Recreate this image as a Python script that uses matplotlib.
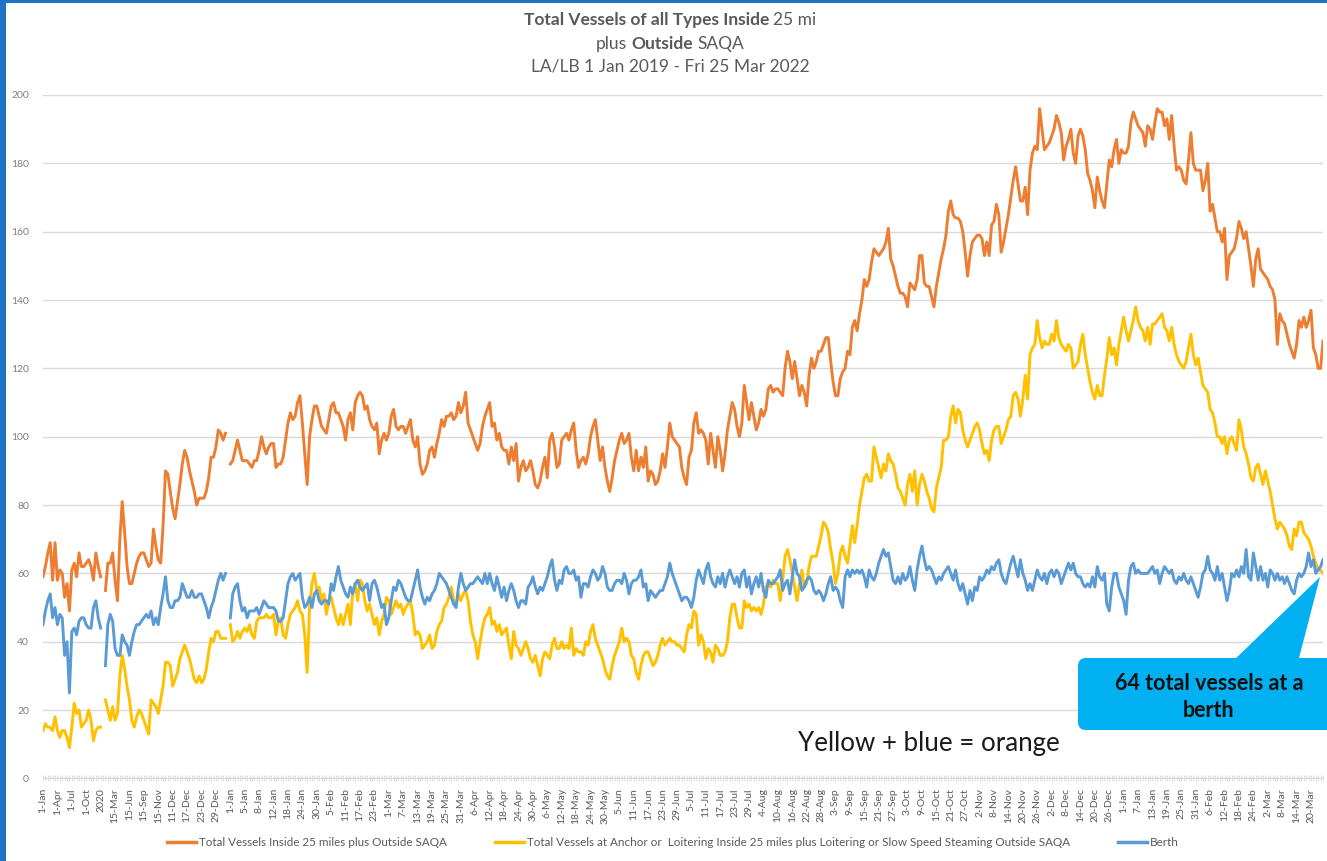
import numpy as np
import matplotlib
matplotlib.use("Agg")
import matplotlib.pyplot as plt
from matplotlib.lines import Line2D
from matplotlib.patches import FancyBboxPatch, Polygon, Rectangle

nan = np.nan

# one value per category (daily), blanks where the source has gaps
total_vessels = [
    59, 62, 66, 69, 58, 69, 58, 61, 60, 53,
    57, 49, 61, 63, 59, 66, 62, 62, 63, 64,
    62, 58, 66, 62, 59, nan, 55, 63, 63, 66,
    58, 52, 70, 81, 72, 62, 57, 57, 60, 63,
    65, 66, 66, 64, 62, 63, 73, 68, 64, 63,
    74, 90, 89, 84, 79, 76, 81, 86, 92, 96,
    94, 90, 87, 84, 80, 82, 82, 82, 84, 88,
    94, 94, 97, 102, 101, 99, 101, nan, 92, 93,
    96, 99, 96, 93, 93, 93, 92, 91, 93, 93,
    96, 100, 97, 95, 97, 98, 98, 91, 92, 92,
    94, 99, 104, 107, 105, 106, 110, 112, 104, 95,
    86, 100, 105, 109, 109, 106, 103, 102, 101, 105,
    109, 110, 107, 107, 105, 103, 99, 105, 107, 102,
    110, 112, 113, 112, 108, 109, 105, 103, 102, 104,
    95, 99, 101, 99, 101, 106, 108, 103, 102, 103,
    103, 101, 103, 105, 99, 97, 100, 92, 89, 90,
    92, 96, 97, 94, 98, 101, 105, 103, 106, 106,
    107, 105, 106, 110, 107, 109, 113, 104, 102, 100,
    98, 96, 98, 103, 106, 108, 110, 103, 104, 99,
    101, 97, 96, 96, 92, 97, 93, 98, 87, 91,
    93, 90, 91, 93, 90, 86, 85, 87, 91, 94,
    88, 99, 101, 97, 91, 92, 99, 100, 101, 99,
    102, 104, 96, 91, 93, 94, 92, 95, 100, 103,
    105, 99, 93, 97, 91, 87, 84, 88, 93, 96,
    99, 101, 98, 99, 101, 94, 90, 96, 90, 94,
    91, 97, 87, 90, 89, 86, 87, 90, 95, 91,
    97, 104, 100, 99, 98, 97, 91, 88, 86, 94,
    96, 104, 107, 101, 102, 101, 99, 92, 101, 96,
    91, 100, 96, 90, 95, 102, 106, 110, 108, 103,
    100, 104, 115, 110, 105, 110, 106, 102, 104, 108,
    106, 108, 114, 115, 113, 114, 114, 113, 112, 120,
    125, 122, 117, 122, 117, 112, 115, 113, 109, 118,
    123, 120, 122, 125, 125, 127, 129, 129, 122, 116,
    112, 112, 117, 119, 120, 125, 124, 132, 134, 131,
    136, 140, 146, 144, 146, 151, 155, 154, 153, 154,
    155, 157, 161, 152, 150, 147, 144, 142, 142, 141,
    138, 145, 144, 143, 146, 153, 153, 145, 144, 144,
    141, 138, 144, 148, 152, 155, 159, 166, 169, 165,
    164, 164, 163, 160, 154, 147, 153, 157, 158, 159,
    159, 158, 153, 157, 153, 162, 163, 168, 165, 154,
    157, 161, 165, 170, 175, 179, 174, 169, 169, 173,
    165, 178, 183, 185, 184, 196, 190, 184, 185, 186,
    188, 190, 194, 192, 189, 181, 185, 187, 190, 183,
    180, 188, 190, 188, 184, 177, 175, 172, 167, 176,
    172, 169, 167, 174, 181, 179, 184, 187, 180, 184,
    183, 183, 185, 192, 195, 193, 191, 190, 189, 185,
    191, 190, 187, 192, 196, 195, 195, 191, 193, 187,
    194, 185, 178, 179, 178, 175, 174, 181, 189, 180,
    178, 178, 178, 172, 175, 180, 166, 168, 164, 160,
    160, 157, 161, 146, 153, 154, 155, 158, 163, 161,
    158, 160, 155, 150, 144, 152, 155, 149, 148, 147,
    146, 144, 143, 140, 127, 136, 134, 133, 130, 127,
    125, 123, 127, 134, 132, 135, 132, 134, 137, 126,
    124, 120, 120, 128,
]

anchor_loiter = [
    14, 16, 15, 15, 14, 18, 14, 12, 14, 14,
    12, 9, 15, 22, 19, 20, 15, 16, 17, 20,
    17, 11, 14, 15, 15, nan, 23, 20, 17, 21,
    17, 19, 30, 36, 32, 27, 23, 17, 15, 18,
    20, 19, 17, 15, 13, 23, 22, 21, 19, 23,
    27, 34, 34, 33, 27, 29, 31, 35, 37, 39,
    37, 35, 32, 29, 28, 30, 28, 29, 32, 37,
    41, 40, 43, 43, 41, 41, 41, nan, 45, 40,
    41, 43, 41, 43, 44, 43, 45, 42, 41, 46,
    47, 47, 47, 48, 47, 47, 48, 42, 46, 47,
    42, 41, 45, 48, 49, 50, 52, 49, 48, 42,
    31, 50, 57, 60, 55, 56, 52, 54, 48, 52,
    53, 50, 47, 45, 48, 45, 48, 51, 45, 55,
    57, 52, 58, 57, 52, 49, 51, 48, 45, 47,
    42, 46, 48, 53, 52, 48, 50, 52, 50, 51,
    48, 50, 51, 52, 48, 42, 43, 42, 38, 39,
    40, 42, 38, 39, 43, 45, 46, 50, 51, 53,
    56, 52, 51, 54, 52, 54, 55, 52, 46, 42,
    40, 35, 40, 44, 47, 48, 50, 45, 46, 43,
    45, 42, 43, 44, 39, 35, 43, 39, 38, 36,
    38, 40, 38, 35, 34, 36, 33, 30, 35, 37,
    36, 35, 39, 41, 38, 38, 40, 38, 39, 38,
    44, 36, 38, 37, 37, 36, 40, 39, 43, 45,
    41, 39, 37, 35, 32, 30, 29, 33, 36, 38,
    40, 44, 40, 41, 40, 36, 35, 31, 29, 33,
    36, 37, 37, 35, 33, 34, 36, 39, 41, 39,
    40, 41, 40, 40, 39, 39, 38, 37, 42, 45,
    44, 49, 48, 39, 42, 40, 35, 38, 37, 34,
    39, 38, 36, 36, 37, 40, 47, 51, 51, 47,
    44, 44, 52, 50, 51, 49, 50, 49, 50, 48,
    51, 56, 57, 56, 58, 57, 57, 52, 58, 65,
    67, 64, 60, 56, 52, 57, 61, 56, 57, 62,
    65, 65, 65, 68, 71, 75, 74, 72, 67, 63,
    57, 60, 66, 68, 65, 63, 68, 74, 69, 74,
    80, 84, 88, 89, 87, 87, 97, 94, 91, 88,
    92, 90, 95, 93, 92, 89, 85, 84, 82, 80,
    86, 89, 84, 90, 80, 86, 89, 87, 84, 82,
    79, 78, 85, 88, 91, 99, 99, 100, 106, 109,
    104, 108, 107, 102, 99, 97, 99, 101, 103, 104,
    102, 98, 95, 96, 93, 99, 102, 103, 103, 98,
    100, 102, 105, 106, 112, 113, 111, 106, 111, 118,
    111, 124, 126, 127, 134, 129, 126, 128, 127, 127,
    130, 128, 134, 129, 127, 126, 125, 127, 126, 120,
    121, 122, 127, 130, 124, 120, 116, 113, 111, 115,
    112, 112, 118, 123, 129, 124, 126, 121, 127, 131,
    135, 131, 128, 131, 134, 138, 134, 132, 131, 128,
    132, 127, 133, 133, 134, 135, 136, 132, 131, 128,
    132, 127, 124, 122, 121, 120, 122, 126, 130, 124,
    121, 123, 119, 115, 114, 113, 108, 107, 104, 100,
    100, 98, 100, 95, 99, 100, 98, 96, 105, 102,
    97, 95, 92, 88, 87, 91, 92, 89, 86, 90,
    87, 84, 80, 76, 73, 75, 74, 73, 71, 68,
    67, 73, 71, 75, 75, 72, 71, 70, 68, 65,
    63, 61, 61, 60,
]

berth = [
    45, 49, 52, 54, 47, 50, 45, 48, 47, 36,
    40, 25, 43, 44, 42, 46, 47, 47, 45, 44,
    44, 50, 52, 47, 44, nan, 33, 45, 48, 46,
    38, 36, 36, 42, 40, 39, 36, 40, 43, 45,
    45, 46, 47, 48, 47, 49, 45, 47, 45, 50,
    54, 59, 52, 50, 50, 52, 52, 53, 57, 55,
    53, 53, 55, 53, 53, 54, 54, 52, 50, 47,
    50, 52, 55, 58, 60, 58, 60, nan, 47, 54,
    56, 57, 52, 49, 50, 47, 49, 49, 49, 50,
    48, 50, 52, 51, 50, 50, 50, 49, 46, 46,
    47, 52, 57, 59, 60, 58, 59, 60, 53, 50,
    51, 53, 50, 54, 55, 52, 51, 52, 52, 51,
    57, 55, 59, 62, 58, 56, 54, 53, 56, 54,
    57, 58, 56, 55, 56, 57, 52, 57, 58, 56,
    53, 50, 51, 45, 47, 52, 56, 55, 58, 57,
    55, 53, 52, 52, 55, 58, 61, 56, 53, 51,
    53, 52, 54, 55, 57, 60, 59, 58, 57, 55,
    53, 51, 50, 56, 60, 57, 55, 56, 57, 57,
    58, 59, 58, 57, 60, 57, 60, 57, 55, 59,
    56, 53, 56, 52, 55, 57, 55, 52, 50, 52,
    52, 51, 56, 57, 59, 56, 54, 56, 55, 57,
    59, 62, 64, 58, 55, 58, 57, 61, 62, 60,
    60, 61, 58, 59, 53, 57, 57, 56, 59, 61,
    60, 58, 59, 62, 60, 56, 55, 55, 57, 58,
    58, 57, 60, 58, 54, 57, 58, 58, 59, 61,
    56, 57, 52, 55, 54, 53, 54, 55, 55, 57,
    59, 63, 60, 58, 56, 54, 52, 53, 53, 52,
    50, 53, 58, 61, 59, 57, 61, 63, 59, 57,
    56, 59, 57, 60, 56, 59, 61, 59, 57, 59,
    56, 60, 61, 56, 59, 54, 57, 59, 56, 60,
    55, 53, 58, 57, 57, 58, 59, 61, 55, 57,
    58, 54, 59, 64, 60, 59, 55, 56, 58, 59,
    58, 55, 54, 55, 54, 52, 54, 57, 59, 55,
    56, 55, 52, 50, 59, 61, 59, 61, 60, 61,
    60, 61, 59, 56, 61, 59, 58, 60, 63, 65,
    67, 65, 66, 62, 58, 57, 59, 57, 60, 58,
    59, 62, 58, 55, 61, 65, 68, 64, 61, 62,
    61, 59, 57, 59, 58, 60, 61, 62, 60, 58,
    61, 57, 55, 57, 54, 51, 55, 52, 56, 55,
    59, 58, 59, 61, 60, 62, 61, 63, 64, 60,
    58, 57, 60, 63, 65, 62, 59, 64, 60, 58,
    55, 57, 55, 58, 61, 59, 58, 60, 57, 60,
    61, 59, 61, 60, 57, 59, 61, 63, 61, 63,
    60, 59, 59, 57, 56, 57, 56, 59, 56, 62,
    59, 58, 60, 51, 49, 56, 60, 60, 56, 54,
    52, 48, 58, 62, 63, 60, 61, 60, 60, 60,
    60, 61, 62, 60, 61, 57, 60, 62, 61, 60,
    61, 58, 57, 59, 58, 60, 58, 57, 59, 57,
    55, 53, 56, 60, 61, 65, 61, 60, 58, 62,
    58, 60, 56, 52, 55, 60, 59, 61, 59, 62,
    60, 67, 59, 58, 66, 62, 58, 62, 58, 60,
    56, 61, 60, 58, 60, 58, 59, 57, 59, 57,
    55, 54, 58, 60, 59, 60, 62, 66, 62, 64,
    60, 61, 62, 64,
]

# every 6th category carries a label
tick_labels = [
    "1-Jan", "1-Apr", "1-Jul", "1-Oct", "2020", "15-Mar", "15-Jun", "15-Sep",
    "15-Nov", "11-Dec", "17-Dec", "23-Dec", "29-Dec", "1-Jan", "5-Jan", "8-Jan",
    "12-Jan", "18-Jan", "24-Jan", "30-Jan", "5-Feb", "11-Feb", "17-Feb", "23-Feb",
    "1-Mar", "7-Mar", "13-Mar", "19-Mar", "25-Mar", "31-Mar", "6-Apr", "12-Apr",
    "18-Apr", "24-Apr", "30-Apr", "6-May", "12-May", "18-May", "24-May", "30-May",
    "5-Jun", "11-Jun", "17-Jun", "23-Jun", "29-Jun", "5-Jul", "11-Jul", "17-Jul",
    "23-Jul", "29-Jul", "4-Aug", "10-Aug", "16-Aug", "22-Aug", "28-Aug", "3-Sep",
    "9-Sep", "15-Sep", "21-Sep", "27-Sep", "3-Oct", "9-Oct", "15-Oct", "21-Oct",
    "27-Oct", "2-Nov", "8-Nov", "14-Nov", "20-Nov", "26-Nov", "2-Dec", "8-Dec",
    "14-Dec", "20-Dec", "26-Dec", "1-Jan", "7-Jan", "13-Jan", "19-Jan", "25-Jan",
    "31-Jan", "6-Feb", "12-Feb", "18-Feb", "24-Feb", "2-Mar", "8-Mar", "14-Mar",
    "20-Mar",
]

series_names = [
    "Total Vessels Inside 25 miles plus Outside SAQA",
    "Total Vessels at Anchor or  Loitering Inside 25 miles plus Loitering or Slow Speed Steaming Outside SAQA",
    "Berth",
]
series_colors = ["#ed7d31", "#ffc000", "#5b9bd5"]

plt.rcParams["font.family"] = ["Lato", "DejaVu Sans"]

W, H = 1327, 861
fig = plt.figure(figsize=(W / 100, H / 100), dpi=100)
ax = fig.add_axes([43 / W, 1 - 778.4 / H, 1280 / W, 683.4 / H])

x = np.arange(len(total_vessels))
for vals, col in zip([total_vessels, anchor_loiter, berth], series_colors):
    ax.plot(x, vals, color=col, lw=2.1, solid_joinstyle="round")

ax.set_xlim(0, len(x) - 1)
ax.set_ylim(0, 200)
ax.set_yticks(range(0, 201, 20))
ax.grid(axis="y", color="#d9d9d9", lw=1)
ax.set_axisbelow(True)
for s in ["left", "right", "top"]:
    ax.spines[s].set_visible(False)
ax.spines["bottom"].set_color("#d9d9d9")

ax.set_xticks(np.arange(0, len(x), 6))
ax.set_xticklabels(tick_labels, rotation=90, fontsize=7.5, color="#595959")
ax.set_xticks(x, minor=True)
ax.tick_params(axis="x", which="both", length=4, width=0.6, color="#d9d9d9",
               direction="inout", pad=5)
ax.tick_params(axis="y", length=0, pad=10, labelsize=7.5, labelcolor="#7f7f7f")

# title, mixing bold and regular words
renderer = fig.canvas.get_renderer()


def rich_line(y_px, parts, size=12.5):
    texts = []
    for s, w in parts:
        texts.append(fig.text(0, 1 - y_px / H, s, fontsize=size, fontweight=w,
                              color="#595959", va="center", ha="left"))
    sp = fig.text(0, 0, "x x", fontsize=size)
    sp2 = fig.text(0, 0, "xx", fontsize=size)
    space = sp.get_window_extent(renderer).width - sp2.get_window_extent(renderer).width
    sp.remove()
    sp2.remove()
    widths = [t.get_window_extent(renderer).width for t in texts]
    total = sum(widths) + space * (len(texts) - 1)
    xp = 670 - total / 2
    for t, w in zip(texts, widths):
        t.set_x(xp / W)
        xp += w + space


rich_line(20, [("Total Vessels of all Types Inside", "bold"), ("25 mi", "normal")])
rich_line(44, [("plus", "normal"), ("Outside", "bold"), ("SAQA", "normal")])
rich_line(67, [("LA/LB 1 Jan 2019 - Fri 25 Mar 2022", "normal")])

handles = [Line2D([], [], color=c, lw=2.5) for c in series_colors]
fig.legend(handles, series_names, loc="center", bbox_to_anchor=(673 / W, 1 - 843 / H),
           ncol=3, frameon=False, fontsize=8.35, labelcolor="#595959",
           handlelength=2.5, handletextpad=0.3, columnspacing=4.1)

fig.text(798 / W, 1 - 744 / H, "Yellow + blue = orange", fontsize=18.6,
         color="#1a1a1a", va="center", ha="left")

# callout box
box = FancyBboxPatch((10.78, (H - 730) / 100), 2.7, 0.72,
                     boxstyle="round,pad=0,rounding_size=0.08",
                     transform=fig.dpi_scale_trans, facecolor="#00b0f0",
                     edgecolor="none", zorder=5)
fig.patches.append(box)
pointer = Polygon([(12.32, (H - 662) / 100), (12.98, (H - 662) / 100),
                   (13.20, (H - 577) / 100)], closed=True,
                  transform=fig.dpi_scale_trans, facecolor="#00b0f0",
                  edgecolor="none", zorder=5)
fig.patches.append(pointer)
fig.text(1209 / W, 1 - 697 / H, "64 total vessels at a\nberth", fontsize=15.5,
         fontweight="bold", color="#111111", ha="center", va="center",
         linespacing=1.4, zorder=6)

# blue frame strips on the left and top edges
fig.patches.append(Rectangle((0, 0), 6 / W, 1, transform=fig.transFigure,
                             facecolor="#1f73c2", edgecolor="none"))
fig.patches.append(Rectangle((0, 1 - 3 / H), 1, 3 / H, transform=fig.transFigure,
                             facecolor="#1f73c2", edgecolor="none"))

fig.savefig("out.png", dpi=100)
